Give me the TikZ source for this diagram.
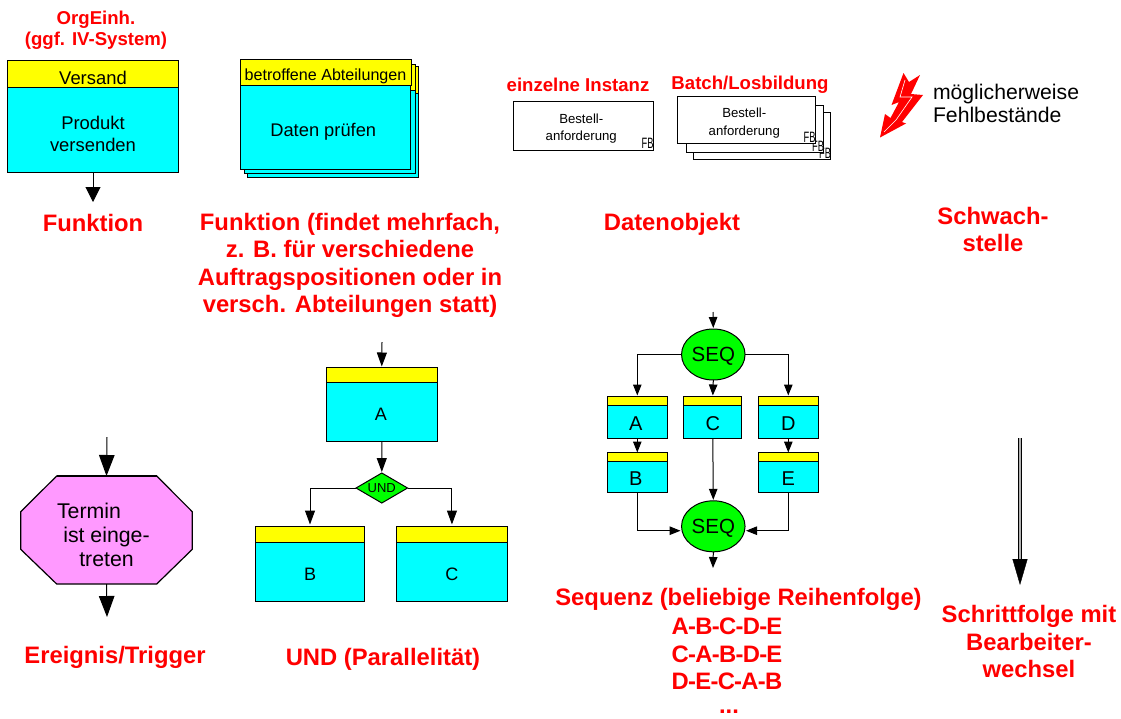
\documentclass[tikz,border=0pt]{standalone}
\usepackage{fontspec}
\setmainfont{Liberation Sans}
\usetikzlibrary{arrows.meta,shapes.geometric}
\definecolor{hdrY}{RGB}{255,255,0}
\definecolor{bodyC}{RGB}{0,255,255}
\definecolor{seqG}{RGB}{0,255,0}
\definecolor{trmP}{RGB}{255,153,255}
\newcommand{\fsz}[2]{\fontsize{#1}{#2}\selectfont}
\newcommand{\FBmark}{\scalebox{0.62}[1]{\fsz{15}{15}FB}}
\newcommand{\lw}[2][2.2pt]{\raisebox{-#1}[\height][\depth]{#2}}
\newcommand{\hy}{\kern-0.7pt-\kern-0.7pt}
\tikzset{
  every node/.style={inner sep=0pt,outer sep=0pt,text=black},
  hdr/.style={draw=black,line width=1pt,fill=hdrY,rectangle,anchor=north west,align=center},
  bdy/.style={draw=black,line width=1pt,fill=bodyC,rectangle,anchor=north west,align=center},
  dobj/.style={draw=black,line width=1pt,fill=white,rectangle,anchor=north west,align=center,font=\fsz{13.2}{17.3}},
  redbig/.style={align=center,text=red,font=\bfseries\fsz{23.8}{27.3}},
  redmid/.style={align=center,text=red,font=\bfseries\fsz{18.6}{21.5}},
  seqnode/.style={draw=black,line width=1pt,fill=seqG,ellipse,minimum width=63.5pt,minimum height=51pt,font=\fsz{20.5}{20.5}},
  conn/.style={draw=black,line width=1pt,-{Triangle[length=11pt,width=8.5pt]},shorten >=1pt},
  connM/.style={draw=black,line width=1pt,-{Triangle[length=14pt,width=10pt]},shorten >=1pt},
  connL/.style={draw=black,line width=1pt,-{Triangle[length=15pt,width=15pt]}},
  connX/.style={draw=black,line width=1pt,-{Triangle[length=21pt,width=15.5pt]}},
}
\begin{document}
\begin{tikzpicture}[x=1pt,y=-1pt]
\useasboundingbox (0,0) rectangle (1121,718);

% --- Funktion
\node[redmid] (lblOrg) at (96,30) {OrgEinh.\\(ggf. IV-System)};
\node[hdr,minimum width=171pt,minimum height=27pt,font=\fsz{18.4}{22}] (fH) at (7.5,60.5) {\lw[3.5pt]{Versand}};
\node[bdy,minimum width=171pt,minimum height=85pt,font=\fsz{18.4}{22}] (fB) at (7.5,87.5) {\lw[3.5pt]{Produkt}\\\lw[3.5pt]{versenden}};
\coordinate (fOut) at (93,202);
\draw[connL] (fB.south) -- (fOut);
\node[redbig] (lblF) at (93,223) {Funktion};

% --- Funktion mehrfach
\node[hdr,minimum width=171pt,minimum height=27pt] (m3H) at (247,66) {};
\node[bdy,minimum width=171pt,minimum height=84pt] (m3B) at (247,93) {};
\node[hdr,minimum width=171pt,minimum height=27pt] (m2H) at (244.5,64) {};
\node[bdy,minimum width=171pt,minimum height=83pt] (m2B) at (244.5,90.5) {};
\node[hdr,minimum width=171pt,minimum height=26pt,font=\fsz{16.1}{18}] (m1H) at (240,59.5) {\lw[3.5pt]{betroffene Abteilungen}};
\node[bdy,minimum width=170.5pt,minimum height=84pt,font=\fsz{18.3}{22}] (m1B) at (240,85.5) {\hspace*{-4pt}\lw[4pt]{Daten prüfen}};
\node[redbig] (lblM) at (350,265.5) {Funktion (findet mehrfach,\\z. B. für verschiedene\\Auftragspositionen oder in\\versch. Abteilungen statt)};

% --- Datenobjekt
\node[redmid] (lblE) at (578,84.5) {einzelne Instanz};
\node[redmid] (lblB) at (750,84.5) {Batch/Losbildung};
\node[dobj,minimum width=140.5pt,minimum height=48.5pt] (d1) at (513,101.5) {\hspace*{-4pt}\lw[3pt]{Bestell-}\\\hspace*{-4pt}\lw[3pt]{anforderung}};
\node (d1f) at (647.5,143.5) {\FBmark};
\node[dobj,minimum width=137pt,minimum height=47pt] (d33) at (693,112) {};
\node (d33f) at (825,153) {\FBmark};
\node[dobj,minimum width=137pt,minimum height=47pt] (d32) at (686,105) {};
\node (d32f) at (818,146) {\FBmark};
\node[dobj,minimum width=137.5pt,minimum height=47pt] (d31) at (677.5,96.5) {\hspace*{-4pt}\lw[3pt]{Bestell-}\\\hspace*{-4pt}\lw[3pt]{anforderung}};
\node (d31f) at (809.5,137.5) {\FBmark};
\node[redbig] (lblD) at (672,224) {Datenobjekt};

% --- Schwachstelle
\fill[red] (903.5,73) -- (909,82) -- (920,75) -- (911,94) -- (923,95) -- (902,122) -- (906,123.5) -- (880,137.5) -- (885,114) -- (890.5,118) -- (899,102) -- (891.5,105) -- cycle;
\draw[white,line width=0.6pt] (905,80) -- (900,97) -- (912,97) -- (896,120) -- (884,132);
\node[anchor=west,align=left,font=\fsz{21.2}{23.5}] (lblWeak) at (933,103.5) {möglicherweise\\Fehlbestände};
\node[redbig] (lblS) at (993,229.5) {Schwach-\\stelle};

% --- Ereignis
\coordinate (tIn) at (107,437);
\coordinate (tOut) at (107,617);
\filldraw[draw=black,line width=1.2pt,fill=trmP] (56.7,476) -- (156.7,476) -- (192.3,511.7) -- (192.3,549.3) -- (156.7,584) -- (56.7,584) -- (20.7,549.3) -- (20.7,511.7) -- cycle;
\draw[black,line width=2.2pt] (56.7,476) -- (156.7,476);
\node[rectangle,minimum width=171.5pt,minimum height=108pt,align=center,font=\fsz{21.3}{24}] (trm) at (106.5,530) {\hspace*{-35pt}\lw[5pt]{Termin}\\\lw[5pt]{ist einge-}\\\lw[5pt]{treten}};
\draw[connX] (tIn) -- (trm.north);
\draw[connX] (trm.south) -- (tOut);
\node[redbig] (lblT) at (115,657) {Ereignis/Trigger};

% --- UND
\coordinate (uIn) at (382,342);
\node[hdr,minimum width=110.5pt,minimum height=15pt] (uaH) at (326.5,367.5) {};
\node[bdy,minimum width=110.5pt,minimum height=59pt,font=\fsz{18}{18}] (uaB) at (326.5,382.5) {\hspace*{-2pt}\lw[2.5pt]{A}};
\node[diamond,draw=black,line width=1pt,fill=seqG,minimum width=51.5pt,minimum height=30pt,font=\fsz{13}{13},aspect=1.7] (und) at (381.8,488) {UND};
\node[hdr,minimum width=109pt,minimum height=16pt] (ubH) at (255.5,526.5) {};
\node[bdy,minimum width=109pt,minimum height=59pt,font=\fsz{18}{18}] (ubB) at (255.5,542.5) {\lw[2.5pt]{B}};
\node[hdr,minimum width=110.5pt,minimum height=16pt] (ucH) at (396.7,526.5) {};
\node[bdy,minimum width=110.5pt,minimum height=59pt,font=\fsz{18}{18}] (ucB) at (396.7,542.5) {\lw[2.5pt]{C}};
\draw[connM] (uIn) -- (uaH.north);
\draw[connM] (uaB.south) -- (und.north);
\draw[connM,shorten >=2pt] (und.west) -| (ubH.north);
\draw[connM,shorten >=2pt] (und.east) -| (ucH.north);
\node[redbig] (lblU) at (383,659) {UND (Parallelität)};

% --- SEQ
\coordinate (sIn) at (713,312);
\coordinate (sOut) at (713,568);
\node[seqnode] (s1) at (713.3,354.5) {\lw{SEQ}};
\node[seqnode] (s2) at (713.3,526.3) {\lw{SEQ}};
\node[hdr,minimum width=60pt,minimum height=9pt] (saH) at (607.3,396.5) {};
\node[bdy,minimum width=60pt,minimum height=32.5pt,font=\fsz{20}{20}] (saB) at (607.3,405.5) {\hspace*{-3pt}\lw{A}};
\node[hdr,minimum width=60pt,minimum height=9pt] (sbH) at (607.3,452.5) {};
\node[bdy,minimum width=60pt,minimum height=31pt,font=\fsz{20}{20}] (sbB) at (607.3,461.5) {\hspace*{-3pt}\lw[1.5pt]{B}};
\node[hdr,minimum width=58pt,minimum height=9pt] (scH) at (683.8,396.5) {};
\node[bdy,minimum width=58pt,minimum height=32.5pt,font=\fsz{20}{20}] (scB) at (683.8,405.5) {\lw{C}};
\node[hdr,minimum width=60pt,minimum height=9pt] (sdH) at (758.3,396.5) {};
\node[bdy,minimum width=60pt,minimum height=32.5pt,font=\fsz{20}{20}] (sdB) at (758.3,405.5) {\lw{D}};
\node[hdr,minimum width=60pt,minimum height=9pt] (seH) at (758.3,452.5) {};
\node[bdy,minimum width=60pt,minimum height=31pt,font=\fsz{20}{20}] (seB) at (758.3,461.5) {\lw[1.5pt]{E}};
\draw[conn] (sIn) -- (s1.north);
\draw[conn] (s1.west) -| (saH.north);
\draw[conn] (s1.south) -- (scH.north);
\draw[conn] (s1.east) -| (sdH.north);
\draw[conn,shorten >=0pt] (saB.south) -- (sbH.north);
\draw[conn,shorten >=0pt] (sdB.south) -- (seH.north);
\draw[conn] (scB.south) -- (s2.north);
\draw[conn] (sbB.south) |- ([yshift=-4.4pt]s2.west);
\draw[conn] (seB.south) |- ([yshift=-4.4pt]s2.east);
\draw[conn,shorten >=0pt] (s2.south) -- (sOut);
\node[redbig] (lblQ) at (738.5,599) {Sequenz (beliebige Reihenfolge)};
\node[redbig] (lblQs) at (727,654) {A\hy B\hy C\hy D\hy E\\C\hy A\hy B\hy D\hy E\\D\hy E\hy C\hy A\hy B};
\node[redbig,text height=8pt,text depth=0pt] (lblQd) at (729,709) {...};

% --- Schrittfolge
\coordinate (wIn) at (1020,438);
\coordinate (wMid) at (1020,560);
\coordinate (wOut) at (1020,585);
\draw[line width=0.8pt,double=gray!60,double distance=1.6pt] (wIn) -- (wMid);
\draw[draw=black,line width=0.4pt,-{Triangle[length=26pt,width=15pt]}] (wMid) -- (wOut);
\node[redbig] (lblW) at (1029,641.5) {Schrittfolge mit\\Bearbeiter-\\wechsel};
\end{tikzpicture}
\end{document}
